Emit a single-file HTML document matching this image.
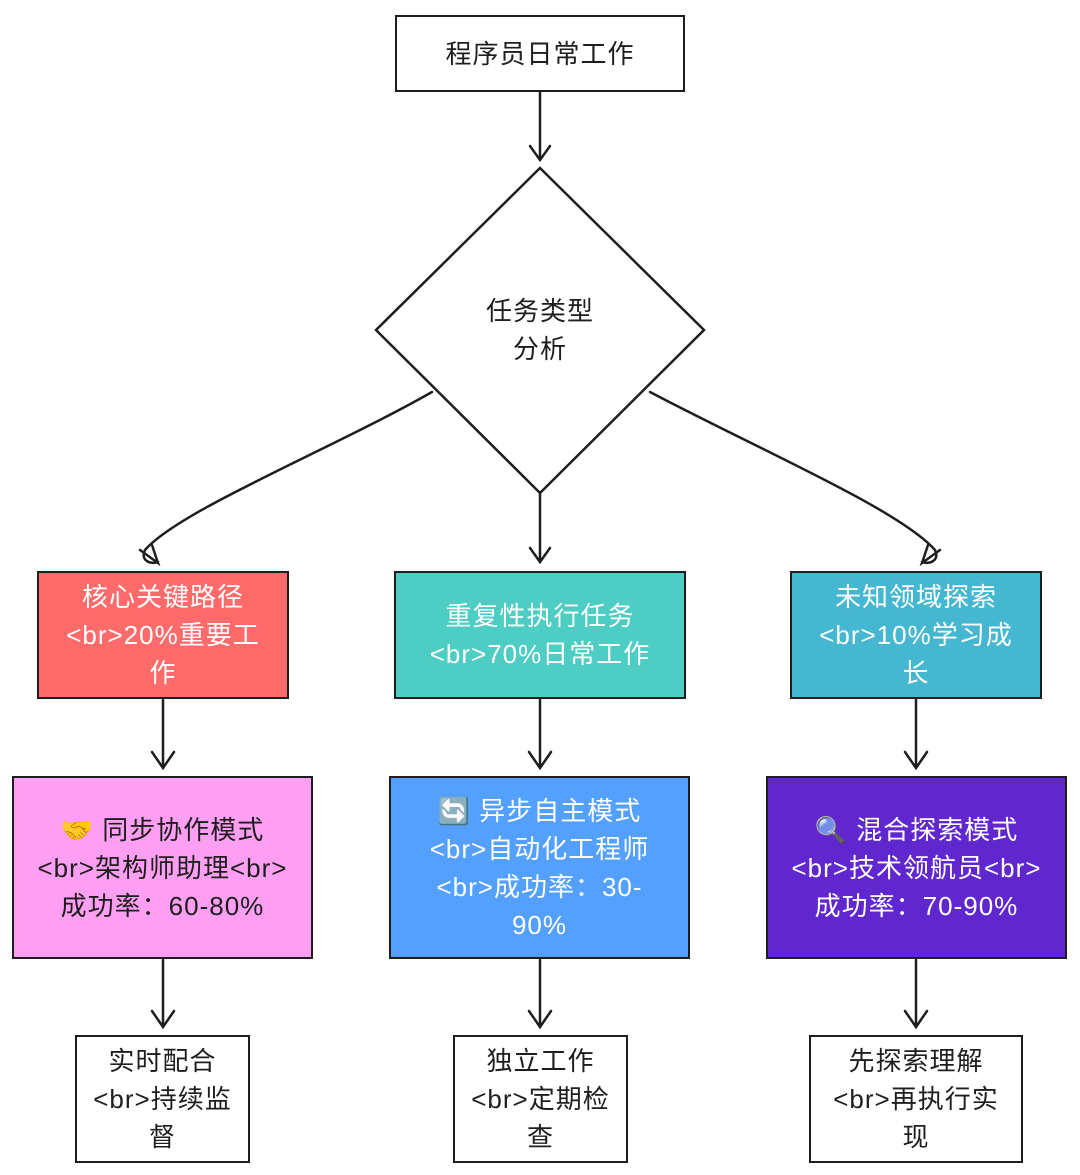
<!DOCTYPE html>
<html><head><meta charset="utf-8"><style>
body{margin:0;width:1080px;height:1175px;background:#fff;position:relative;overflow:hidden;font-family:"Liberation Sans","Noto Sans CJK SC",sans-serif;}
.b{position:absolute;box-sizing:border-box;border:2.5px solid #1e1e1e;display:flex;align-items:center;justify-content:center;text-align:center;font-size:26px;line-height:38px;color:#1e1e1e;padding:0;white-space:nowrap;letter-spacing:1px;}
.w{color:#fff;}
svg{position:absolute;left:0;top:0;}
</style></head><body>
<svg width="1080" height="1175" fill="none" stroke="#1e1e1e" stroke-width="2.5" stroke-linecap="round">
<polygon points="540,168 704,330 540,493 376,330" fill="#fff"/>
<path d="M540 92 L540 158 M530 146 L540 160 L550 146"/>
<path d="M432 392 C330 450 180 510 145 550 C140 560 150 565 158 562 M140 550 L158 563 L152 545"/>
<path d="M540 493 L540 560 M530 548 L540 562 L550 548"/>
<path d="M650 392 C760 450 900 510 935 550 C940 560 930 565 922 562 M940 550 L922 563 L928 545"/>
<path d="M163 700 L163 766 M152 752 L163 768 L174 752"/>
<path d="M540 700 L540 766 M529 752 L540 768 L551 752"/>
<path d="M916 700 L916 766 M905 752 L916 768 L927 752"/>
<path d="M163 960 L163 1025 M152 1011 L163 1027 L174 1011"/>
<path d="M540 960 L540 1025 M529 1011 L540 1027 L551 1011"/>
<path d="M916 960 L916 1025 M905 1011 L916 1027 L927 1011"/>
</svg>
<div class="b" style="left:395px;top:15px;width:290px;height:77px;">程序员日常工作</div>
<div class="b" style="left:460px;top:290px;width:160px;height:80px;border:none;">任务类型<br>分析</div>
<div class="b w" style="left:37px;top:571px;width:252px;height:128px;background:#ff6b6b;">核心关键路径<br>&lt;br&gt;20%重要工<br>作</div>
<div class="b w" style="left:394px;top:571px;width:292px;height:128px;background:#4ecdc4;">重复性执行任务<br>&lt;br&gt;70%日常工作</div>
<div class="b w" style="left:790px;top:571px;width:252px;height:128px;background:#45b7d1;">未知领域探索<br>&lt;br&gt;10%学习成<br>长</div>
<div class="b" style="left:12px;top:776px;width:301px;height:183px;background:#ff9ff3;">🤝 同步协作模式<br>&lt;br&gt;架构师助理&lt;br&gt;<br>成功率：60-80%</div>
<div class="b w" style="left:389px;top:776px;width:301px;height:183px;background:#54a0ff;">🔄 异步自主模式<br>&lt;br&gt;自动化工程师<br>&lt;br&gt;成功率：30-<br>90%</div>
<div class="b w" style="left:766px;top:776px;width:301px;height:183px;background:#5f27cd;">🔍 混合探索模式<br>&lt;br&gt;技术领航员&lt;br&gt;<br>成功率：70-90%</div>
<div class="b" style="left:75px;top:1035px;width:175px;height:128px;">实时配合<br>&lt;br&gt;持续监<br>督</div>
<div class="b" style="left:453px;top:1035px;width:175px;height:128px;">独立工作<br>&lt;br&gt;定期检<br>查</div>
<div class="b" style="left:809px;top:1035px;width:214px;height:128px;">先探索理解<br>&lt;br&gt;再执行实<br>现</div>
</body></html>
